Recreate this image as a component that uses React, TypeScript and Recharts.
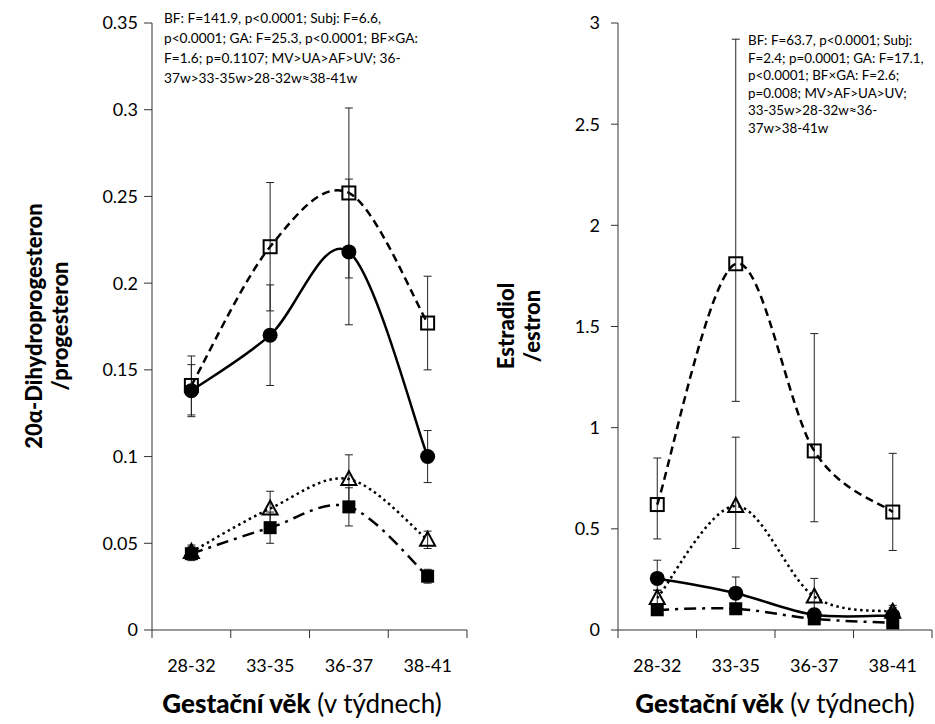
import React from 'react';
import { LineChart, Line, XAxis, YAxis, ErrorBar } from 'recharts';

const categories = ['28-32', '33-35', '36-37', '38-41'];

// left panel: 20α-dihydroprogesteron / progesteron
const leftMV = [0.141, 0.221, 0.252, 0.177];
const leftMVErr = [0.017, 0.037, 0.049, 0.027];
const leftUA = [0.138, 0.17, 0.218, 0.1];
const leftUAErr = [0.015, 0.029, 0.042, 0.015];
const leftAF = [0.045, 0.07, 0.087, 0.052];
const leftAFErr = [0.004, 0.01, 0.014, 0.005];
const leftUV = [0.044, 0.059, 0.071, 0.031];
const leftUVErr = [0.004, 0.009, 0.011, 0.004];
const leftTicks = [0, 0.05, 0.1, 0.15, 0.2, 0.25, 0.3, 0.35];
const leftNote = [
  'BF: F=141.9, p<0.0001; Subj: F=6.6,',
  'p<0.0001; GA: F=25.3, p<0.0001; BF×GA:',
  'F=1.6; p=0.1107; MV>UA>AF>UV; 36-',
  '37w>33-35w>28-32w≈38-41w',
];

// right panel: estradiol / estron  (errors as [minus, plus])
const rightMV = [0.62, 1.81, 0.885, 0.583];
const rightMVErr = [[0.17, 0.23], [0.68, 1.11], [0.35, 0.58], [0.19, 0.29]];
const rightUA = [0.255, 0.182, 0.075, 0.072];
const rightUAErr = [[0.06, 0.09], [0.06, 0.08], [0.02, 0.03], [0.02, 0.05]];
const rightAF = [0.158, 0.613, 0.165, 0.09];
const rightAFErr = [[0.03, 0.04], [0.21, 0.34], [0.07, 0.09], [0.015, 0.02]];
const rightUV = [0.1, 0.105, 0.055, 0.035];
const rightUVErr = [[0.01, 0.01], [0.015, 0.015], [0.01, 0.01], [0.008, 0.008]];
const rightTicks = [0, 0.5, 1, 1.5, 2, 2.5, 3];
const rightNote = [
  'BF: F=63.7, p<0.0001; Subj:',
  'F=2.4; p=0.0001; GA: F=17.1,',
  'p<0.0001; BF×GA: F=2.6;',
  'p=0.008; MV>AF>UA>UV;',
  '33-35w>28-32w≈36-',
  '37w>38-41w',
];

const AXIS = '#333';
const xTicks = [0, 0.5, 1, 1.5, 2, 2.5, 3, 3.5, 4];

// Excel-like smoothed line (Catmull-Rom through the points)
function smoothCurve(context: any) {
  let pts: number[][] = [];
  return {
    areaStart() {},
    areaEnd() {},
    lineStart() {
      pts = [];
    },
    point(x: number, y: number) {
      pts.push([+x, +y]);
    },
    lineEnd() {
      const n = pts.length;
      if (!n) return;
      context.moveTo(pts[0][0], pts[0][1]);
      for (let i = 0; i < n - 1; i++) {
        const p0 = pts[Math.max(i - 1, 0)];
        const p1 = pts[i];
        const p2 = pts[i + 1];
        const p3 = pts[Math.min(i + 2, n - 1)];
        context.bezierCurveTo(
          p1[0] + (p2[0] - p0[0]) / 6,
          p1[1] + (p2[1] - p0[1]) / 6,
          p2[0] - (p3[0] - p1[0]) / 6,
          p2[1] - (p3[1] - p1[1]) / 6,
          p2[0],
          p2[1]
        );
      }
    },
  };
}

const openSquare = (p: any) => (
  <rect key={p.key ?? p.index} x={p.cx - 6.5} y={p.cy - 6.5} width={13} height={13} fill="none" stroke="#000" strokeWidth={2} />
);
const filledCircle = (p: any) => <circle key={p.key ?? p.index} cx={p.cx} cy={p.cy} r={7.5} fill="#000" />;
const openTriangle = (p: any) => (
  <polygon
    key={p.key ?? p.index}
    points={`${p.cx},${p.cy - 8} ${p.cx - 7.5},${p.cy + 6} ${p.cx + 7.5},${p.cy + 6}`}
    fill="none"
    stroke="#000"
    strokeWidth={2}
  />
);
const filledSquare = (p: any) => (
  <rect key={p.key ?? p.index} x={p.cx - 6.5} y={p.cy - 6.5} width={13} height={13} fill="#000" />
);

const seriesStyle = [
  { key: 'mv', dash: '8 5', dot: openSquare },
  { key: 'ua', dash: undefined, dot: filledCircle },
  { key: 'af', dash: '2.5 3.5', dot: openTriangle },
  { key: 'uv', dash: '12 6 3 6', dot: filledSquare },
];

function XTick(props: any) {
  const { x, y, payload } = props;
  const v = payload.value;
  if (Number.isInteger(v)) {
    return <line x1={x} y1={y} x2={x} y2={y + 8} stroke={AXIS} />;
  }
  return (
    <text x={x} y={y + 35} textAnchor="middle" dominantBaseline="central" fontSize={18} fill="#000">
      {categories[Math.floor(v)]}
    </text>
  );
}

type PanelProps = {
  width: number;
  left: number;
  axisX: number;
  rows: any[];
  domain: number[];
  ticks: number[];
  tickSize: number;
  tickMargin: number;
  titleLines: string[];
  titleX: number[];
  note: string[];
  noteX: number;
  noteY: number;
  noteStep: number;
  noteSize: number;
  xTitleX: number;
};

function Panel(p: PanelProps) {
  const yWidth = 60;
  return (
    <div style={{ position: 'absolute', left: p.left, top: 0 }}>
      <LineChart
        width={p.width}
        height={724}
        data={p.rows}
        margin={{ top: 23, right: 3, bottom: 0, left: p.axisX - yWidth }}
      >
        <XAxis
          dataKey="pos"
          type="number"
          domain={[0, 4]}
          ticks={xTicks}
          interval={0}
          tick={XTick}
          tickLine={false}
          tickSize={0}
          tickMargin={0}
          height={94}
          stroke={AXIS}
        />
        <YAxis
          type="number"
          domain={p.domain}
          ticks={p.ticks}
          interval={0}
          width={yWidth}
          tickSize={p.tickSize}
          tickMargin={p.tickMargin}
          tick={{ fontSize: 18, fill: '#000' }}
          stroke={AXIS}
          allowDataOverflow
        />
        {seriesStyle.map((s) => (
          <Line
            key={s.key}
            dataKey={s.key}
            type={smoothCurve as any}
            stroke="#000"
            strokeWidth={2.5}
            strokeDasharray={s.dash}
            dot={s.dot}
            activeDot={false}
            isAnimationActive={false}
          >
            <ErrorBar dataKey={s.key + 'Err'} direction="y" width={4} strokeWidth={1} stroke="#222" />
          </Line>
        ))}
        {p.titleLines.map((t, i) => (
          <text
            key={t}
            transform={`translate(${p.titleX[i]},326) rotate(-90)`}
            textAnchor="middle"
            dominantBaseline="central"
            fontSize={22}
            fontWeight={900}
            fill="#000"
          >
            {t}
          </text>
        ))}
        {p.note.map((t, i) => (
          <text key={t} x={p.noteX} y={p.noteY + i * p.noteStep} fontSize={p.noteSize} fill="#000" dominantBaseline="central">
            {t}
          </text>
        ))}
        <text x={p.xTitleX} y={703} textAnchor="middle" dominantBaseline="central" fontSize={26} fill="#000">
          <tspan fontWeight={900}>Gestační věk</tspan>
          <tspan> (v týdnech)</tspan>
        </text>
      </LineChart>
    </div>
  );
}

export default function App() {
  const leftRows = categories.map((c, i) => ({
    pos: i + 0.5,
    cat: c,
    mv: leftMV[i],
    mvErr: leftMVErr[i],
    ua: leftUA[i],
    uaErr: leftUAErr[i],
    af: leftAF[i],
    afErr: leftAFErr[i],
    uv: leftUV[i],
    uvErr: leftUVErr[i],
  }));
  const rightRows = categories.map((c, i) => ({
    pos: i + 0.5,
    cat: c,
    mv: rightMV[i],
    mvErr: rightMVErr[i],
    ua: rightUA[i],
    uaErr: rightUAErr[i],
    af: rightAF[i],
    afErr: rightAFErr[i],
    uv: rightUV[i],
    uvErr: rightUVErr[i],
  }));

  return (
    <div
      style={{
        position: 'absolute',
        left: 0,
        top: 0,
        width: 935,
        height: 724,
        background: '#fff',
        fontFamily: 'Lato, "Open Sans", sans-serif',
      }}
    >
      <Panel
        width={470}
        left={0}
        axisX={152}
        rows={leftRows}
        domain={[0, 0.35]}
        ticks={leftTicks}
        tickSize={8}
        tickMargin={6}
        titleLines={['20α-Dihydroprogesteron', '/progesteron']}
        titleX={[33, 59]}
        note={leftNote}
        noteX={164}
        noteY={17}
        noteStep={20}
        noteSize={13.7}
        xTitleX={302}
      />
      <Panel
        width={465}
        left={470}
        axisX={148}
        rows={rightRows}
        domain={[0, 3]}
        ticks={rightTicks}
        tickSize={7}
        tickMargin={11}
        titleLines={['Estradiol', '/estron']}
        titleX={[35, 61]}
        note={rightNote}
        noteX={278}
        noteY={40}
        noteStep={17.6}
        noteSize={13.4}
        xTitleX={305}
      />
    </div>
  );
}
